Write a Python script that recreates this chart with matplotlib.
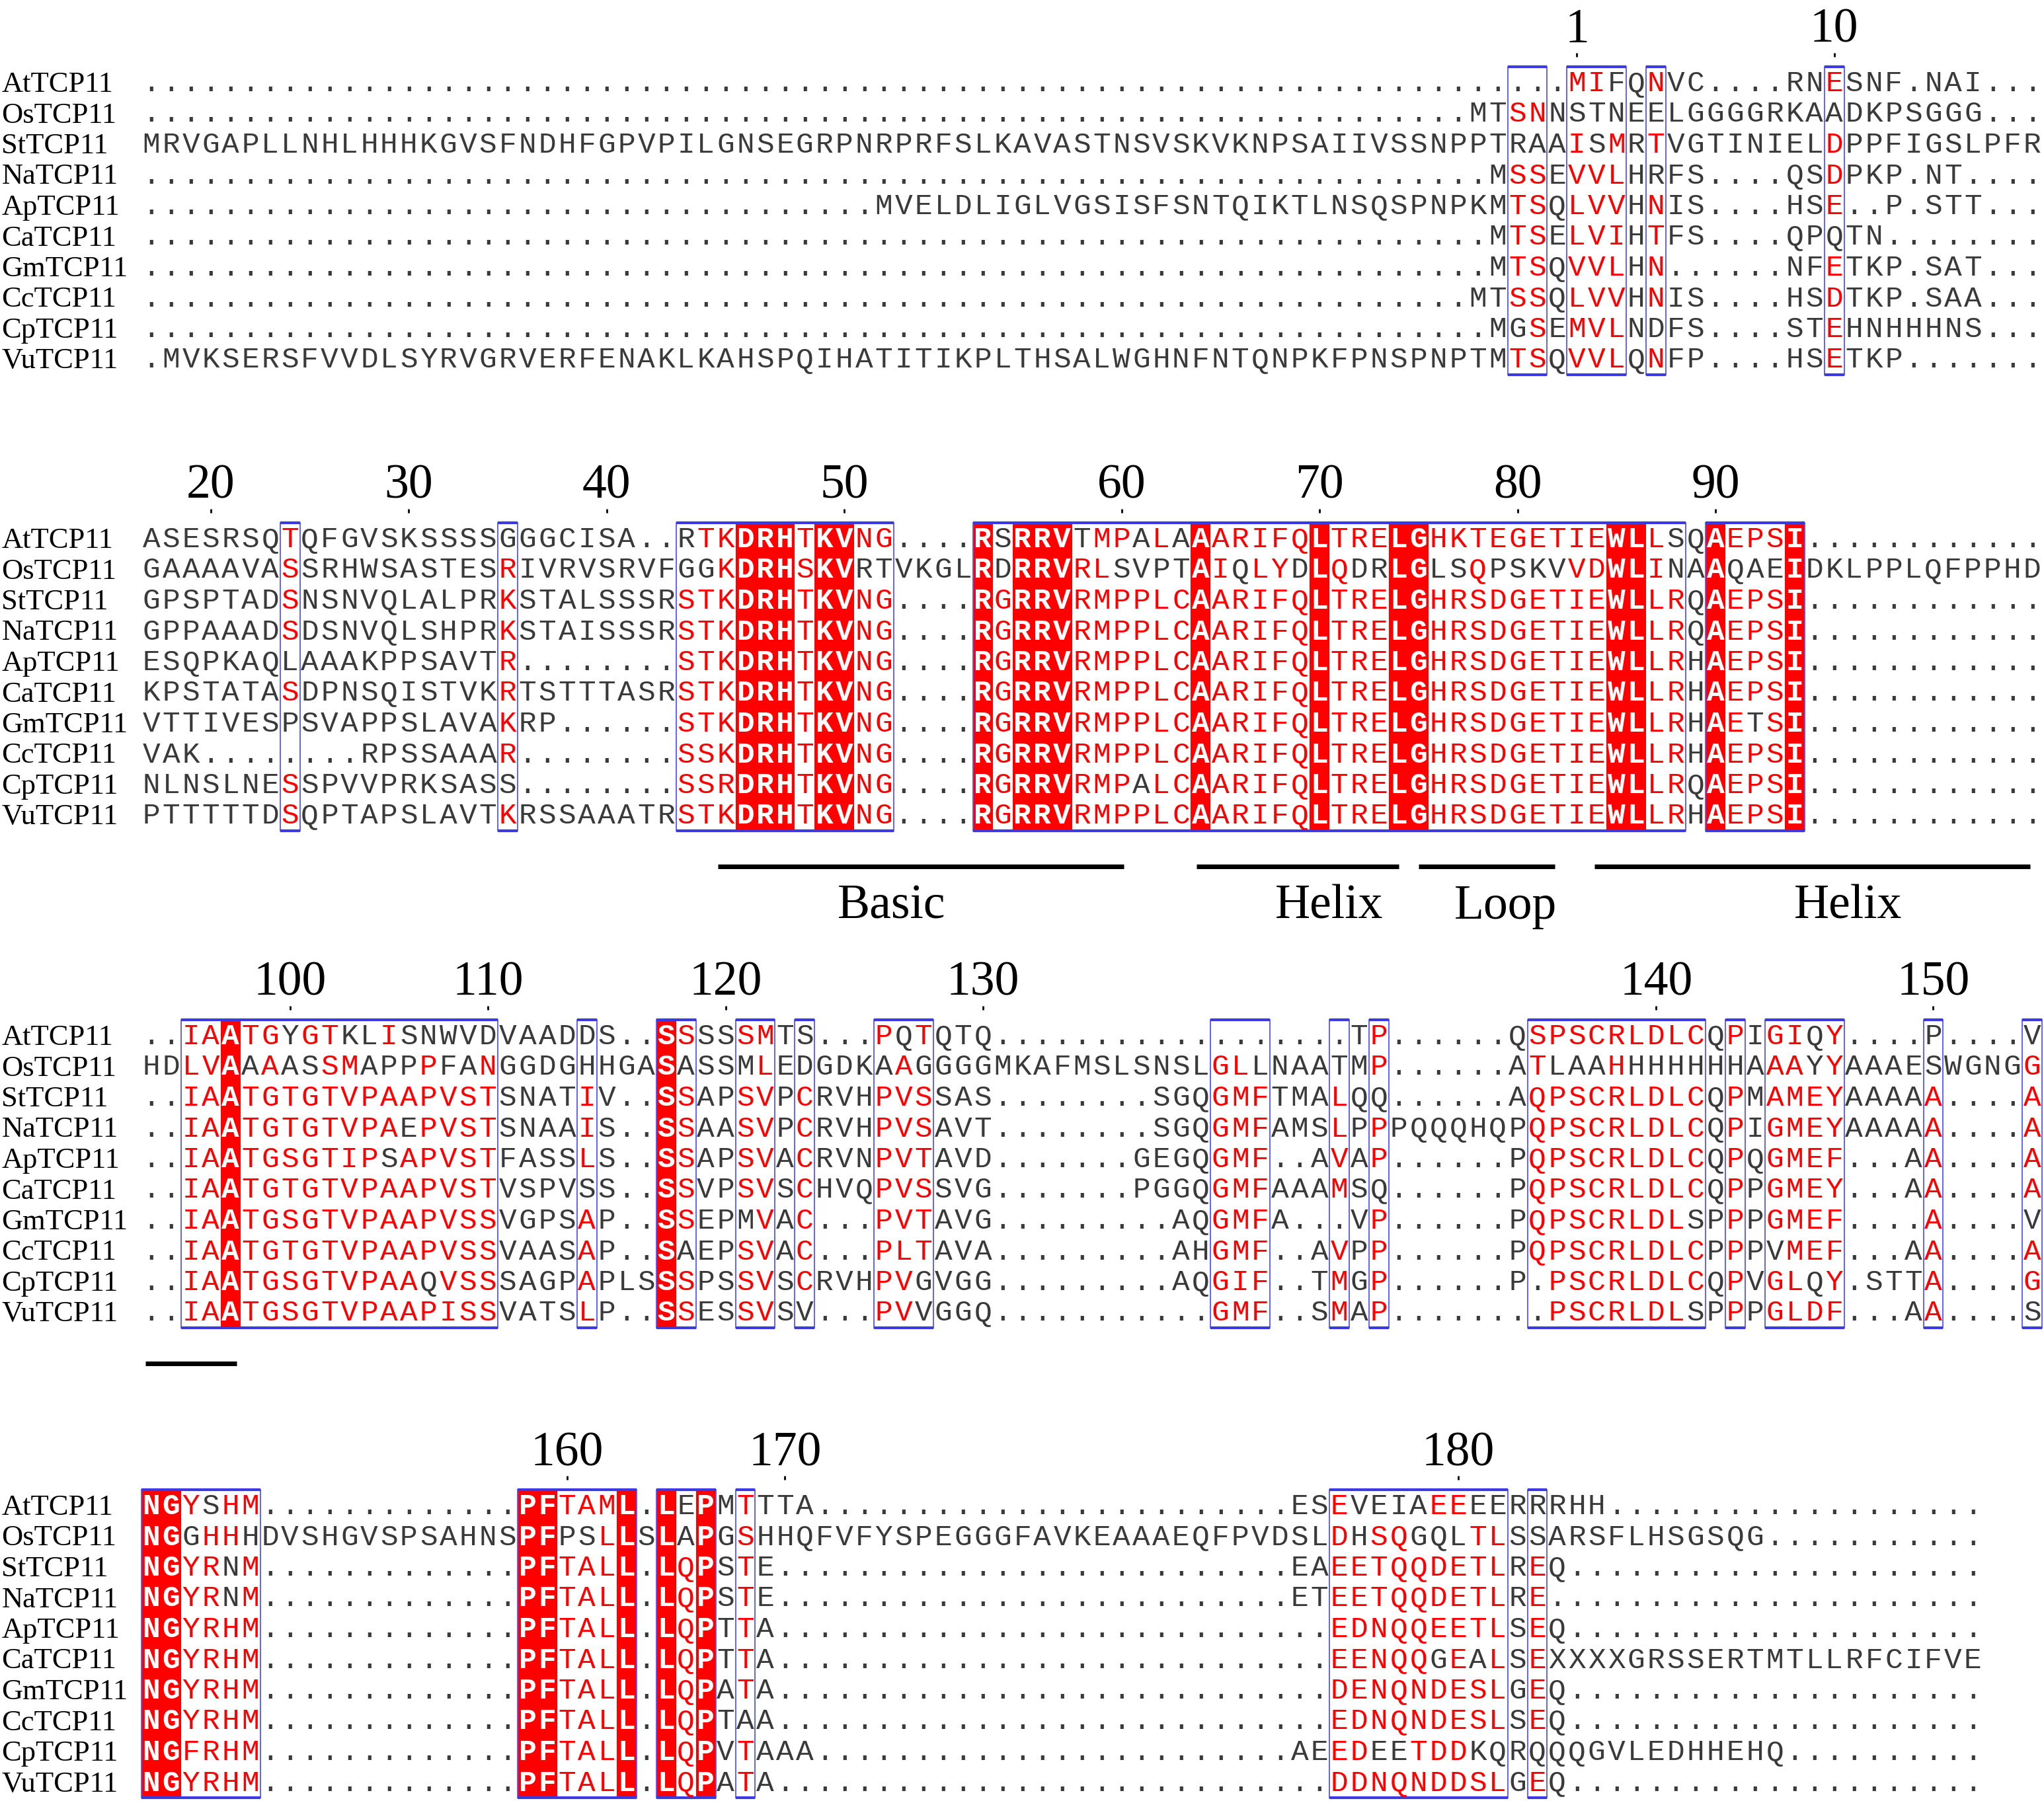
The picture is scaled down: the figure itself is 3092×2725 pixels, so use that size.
import matplotlib
matplotlib.use('Agg')
import matplotlib.pyplot as plt
from matplotlib.patches import Rectangle

names = ['AtTCP11', 'OsTCP11', 'StTCP11', 'NaTCP11', 'ApTCP11',
         'CaTCP11', 'GmTCP11', 'CcTCP11', 'CpTCP11', 'VuTCP11']

# alignment, block by block ('.' = gap)
block1 = [
    '.' * 72 + 'MIFQNVC....RNESNF.NAI...',
    '.' * 67 + 'MTSNNSTNEELGGGGRKAADKPSGGG...',
    'MRVGAPLLNHLHHHKGVSFNDHFGPVPILGNSEGRPNRPRFSLKAVASTNSVSKVKNPSAIIVSSNPPTRAAISMRTVGTINIELDPPFIGSLPFR',
    '.' * 68 + 'MSSEVVLHRFS....QSDPKP.NT....',
    '.' * 37 + 'MVELDLIGLVGSISFSNTQIKTLNSQSPNPKMTSQLVVHNIS....HSE..P.STT...',
    '.' * 68 + 'MTSELVIHTFS....QPQTN' + '.' * 8,
    '.' * 68 + 'MTSQVVLHN......NFETKP.SAT...',
    '.' * 67 + 'MTSSQLVVHNIS....HSDTKP.SAA...',
    '.' * 68 + 'MGSEMVLNDFS....STEHNHHHNS...',
    '.MVKSERSFVVDLSYRVGRVERFENAKLKAHSPQIHATITIKPLTHSALWGHNFNTQNPKFPNSPNPTMTSQVVLQNFP....HSETKP.......',
]
block2 = [
    'ASESRSQTQFGVSKSSSSGGGCISA..RTKDRHTKVNG....RSRRVTMPALAAARIFQLTRELGHKTEGETIEWLLSQAEPSI' + '.' * 12,
    'GAAAAVASSRHWSASTESRIVRVSRVFGGKDRHSKVRTVKGLRDRRVRLSVPTAIQLYDLQDRLGLSQPSKVVDWLINAAQAEIDKLPPLQFPPHD',
    'GPSPTADSNSNVQLALPRKSTALSSSRSTKDRHTKVNG....RGRRVRMPPLCAARIFQLTRELGHRSDGETIEWLLRQAEPSI' + '.' * 12,
    'GPPAAADSDSNVQLSHPRKSTAISSSRSTKDRHTKVNG....RGRRVRMPPLCAARIFQLTRELGHRSDGETIEWLLRQAEPSI' + '.' * 12,
    'ESQPKAQLAAAKPPSAVTR........STKDRHTKVNG....RGRRVRMPPLCAARIFQLTRELGHRSDGETIEWLLRHAEPSI' + '.' * 12,
    'KPSTATASDPNSQISTVKRTSTTTASRSTKDRHTKVNG....RGRRVRMPPLCAARIFQLTRELGHRSDGETIEWLLRHAEPSI' + '.' * 12,
    'VTTIVESPSVAPPSLAVAKRP......STKDRHTKVNG....RGRRVRMPPLCAARIFQLTRELGHRSDGETIEWLLRHAETSI' + '.' * 12,
    'VAK' + '.' * 8 + 'RPSSAAAR' + '.' * 8 + 'SSKDRHTKVNG....RGRRVRMPPLCAARIFQLTRELGHRSDGETIEWLLRHAEPSI' + '.' * 12,
    'NLNSLNESSPVVPRKSASS........SSRDRHTKVNG....RGRRVRMPALCAARIFQLTRELGHRSDGETIEWLLRQAEPSI' + '.' * 12,
    'PTTTTTDSQPTAPSLAVTKRSSAAATRSTKDRHTKVNG....RGRRVRMPPLCAARIFQLTRELGHRSDGETIEWLLRHAEPSI' + '.' * 12,
]
block3 = [
    '..IAATGYGTKLISNWVDVAADDS..SSSSSMTS...PQTQTQ' + '.' * 18 + 'TP......QSPSCRLDLCQPIGIQY....P....V',
    'HDLVAAAASSMAPPPFANGGDGHHGASASSMLEDGDKAAGGGGMKAFMSLSNSLGLLNAATMP......ATLAAHHHHHHHAAAYYAAAESWGNGG',
    '..IAATGTGTVPAAPVSTSNATIV..SSAPSVPCRVHPVSSAS' + '.' * 8 + 'SGQGMFTMALQQ......AQPSCRLDLCQPMAMEYAAAAA....A',
    '..IAATGTGTVPAEPVSTSNAAIS..SSAASVPCRVHPVSAVT' + '.' * 8 + 'SGQGMFAMSLPPPQQQHQPQPSCRLDLCQPIGMEYAAAAA....A',
    '..IAATGSGTIPSAPVSTFASSLS..SSAPSVACRVNPVTAVD' + '.' * 7 + 'GEGQGMF..AVAP......PQPSCRLDLCQPQGMEF...AA....A',
    '..IAATGTGTVPAAPVSTVSPVSS..SSVPSVSCHVQPVSSVG' + '.' * 7 + 'PGGQGMFAAAMSQ......PQPSCRLDLCQPPGMEY...AA....A',
    '..IAATGSGTVPAAPVSSVGPSAP..SSEPMVAC...PVTAVG' + '.' * 9 + 'AQGMFA...VP......PQPSCRLDLSPPPGMEF....A....V',
    '..IAATGTGTVPAAPVSSVAASAP..SAEPSVAC...PLTAVA' + '.' * 9 + 'AHGMF..AVPP......PQPSCRLDLCPPPVMEF...AA....A',
    '..IAATGSGTVPAAQVSSSAGPAPLSSSPSSVSCRVHPVGVGG' + '.' * 9 + 'AQGIF..TMGP......P.PSCRLDLCQPVGLQY.STTA....G',
    '..IAATGSGTVPAAPISSVATSLP..SSESSVSV...PVVGGQ' + '.' * 11 + 'GMF..SMAP........PSCRLDLSPPPGLDF...AA....S',
]
block4 = [
    'NGYSHM' + '.' * 13 + 'PFTAML.LEPMTTTA' + '.' * 24 + 'ESEVEIAEEEERRRHH' + '.' * 19,
    'NGGHHHDVSHGVSPSAHNSPFPSLLSLAPGSHHQFVFYSPEGGGFAVKEAAAEQFPVDSLDHSQGQLTLSSARSFLHSGSQG' + '.' * 11,
    'NGYRNM' + '.' * 13 + 'PFTALL.LQPSTE' + '.' * 26 + 'EAEETQQDETLREQ' + '.' * 21,
    'NGYRNM' + '.' * 13 + 'PFTALL.LQPSTE' + '.' * 26 + 'ETEETQQDETLRE' + '.' * 22,
    'NGYRHM' + '.' * 13 + 'PFTALL.LQPTTA' + '.' * 28 + 'EDNQQEETLSEQ' + '.' * 21,
    'NGYRHM' + '.' * 13 + 'PFTALL.LQPTTA' + '.' * 28 + 'EENQQGEALSEXXXXGRSSERTMTLLRFCIFVE',
    'NGYRHM' + '.' * 13 + 'PFTALL.LQPATA' + '.' * 28 + 'DENQNDESLGEQ' + '.' * 21,
    'NGYRHM' + '.' * 13 + 'PFTALL.LQPTAA' + '.' * 28 + 'EDNQNDESLSEQ' + '.' * 21,
    'NGFRHM' + '.' * 13 + 'PFTALL.LQPVTAAA' + '.' * 24 + 'AEEDEETDDKQRQQQGVLEDHHEHQ' + '.' * 10,
    'NGYRHM' + '.' * 13 + 'PFTALL.LQPATA' + '.' * 28 + 'DDNQNDDSLGEQ' + '.' * 21,
]

# boxed (similar) column ranges per block, 1-based inclusive
boxes1 = [(70, 71), (73, 75), (77, 77), (86, 86)]
boxes2 = [(8, 8), (19, 19), (28, 38), (43, 78), (80, 84)]
boxes3 = [(3, 18), (23, 23), (27, 28), (31, 32), (34, 34), (38, 40), (55, 57),
          (61, 61), (63, 63), (71, 79), (81, 81), (83, 86), (91, 91), (96, 96)]
boxes4 = [(1, 6), (20, 25), (27, 29), (31, 31), (61, 69), (71, 71)]

# secondary structure annotation under block 2 (column units) and its tail in block 3
domain_names = ['Basic', 'Helix', 'Loop', 'Helix']
domain_start = [29.1, 53.3, 64.5, 73.4]
domain_end = [49.6, 63.5, 71.4, 95.4]
domain_label = [37.9, 60.0, 68.9, 86.2]
tail_start, tail_end = 0.2, 4.8

blocks = [block1, block2, block3, block4]
block_boxes = [boxes1, boxes2, boxes3, boxes4]
block_y = [125, 815, 1567, 2278]   # centre of first row, px
pitch = 46.5

sim = {'I': 'ILVMA', 'L': 'ILVMA', 'V': 'ILVMA', 'M': 'ILVMA', 'A': 'A',
       'G': 'GA', 'F': 'FYW', 'Y': 'FYW', 'W': 'FYW', 'K': 'KRH', 'R': 'KRH',
       'H': 'KRH', 'D': 'DE', 'E': 'DE', 'S': 'STNQ', 'T': 'STNQ',
       'N': 'STNQ', 'Q': 'STNQ'}

RED = '#ff0000'
INK = '#3a3a3a'
BLUE = '#5555ff'

W, H = 3092, 2725
cw = 29.95
x0 = 214

fig = plt.figure(figsize=(W / 100, H / 100), dpi=100)
ax = fig.add_axes([0, 0, 1, 1])
ax.set_xlim(-x0 / cw, (W - x0) / cw)
ax.set_ylim(H, 0)
ax.axis('off')

seqfont = dict(family='Liberation Mono', fontsize=32)
serif = 'Liberation Serif'


def classify(block, boxes):
    ncol = len(block[0])
    inbox = set(c for a, b in boxes for c in range(a, b + 1))
    filled, red = set(), set()
    for c in range(1, ncol + 1):
        col = [row[c - 1] for row in block]
        res = [ch for ch in col if ch != '.']
        if len(res) == len(col) and len(set(res)) == 1:
            filled.add(c)
            continue
        if c in inbox and res:
            best = max(set(res), key=lambda t: (sum(r in sim.get(t, t) for r in res), res.count(t)))
            for i, ch in enumerate(col):
                if ch != '.' and ch in sim.get(best, best):
                    red.add((i, c))
    return filled, red


resnum = 0
for b, block in enumerate(blocks):
    y0 = block_y[b]
    top = y0 - 24
    bot = y0 + (len(block) - 1) * pitch + 23
    filled, red = classify(block, block_boxes[b])

    # red background for identical columns
    for c in sorted(filled):
        ax.add_patch(Rectangle((c - 1, top), 1, bot - top, fc=RED, ec='none',
                               lw=0, zorder=1))

    # boxes
    for a, e in block_boxes[b]:
        ax.add_patch(Rectangle((a - 1, top), e - a + 1, bot - top, fill=False,
                               ec=BLUE, lw=1.3, zorder=2))
        ax.plot([a - 1, e], [top, top], color='#3a3ae0', lw=3, zorder=2,
                solid_capstyle='butt')
        ax.plot([a - 1, e], [bot, bot], color='#3a3ae0', lw=3, zorder=2,
                solid_capstyle='butt')

    # names and residues
    for i, row in enumerate(block):
        yc = y0 + i * pitch
        ax.text(-x0 / cw + 0.08, yc + 14, names[i], family=serif, fontsize=32,
                ha='left', va='baseline', color='black')
        for c, ch in enumerate(row, start=1):
            if c in filled:
                col, wt = 'white', 'bold'
            elif (i, c) in red:
                col, wt = RED, 'normal'
            else:
                col, wt = INK, 'normal'
            ax.text(c - 0.5, yc + 13, ch, ha='center', va='baseline',
                    color=col, fontweight=wt, zorder=4, **seqfont)

    # numbering from the first sequence
    for c, ch in enumerate(block[0], start=1):
        if ch == '.':
            continue
        resnum += 1
        if resnum == 1 or resnum % 10 == 0:
            ax.text(c - 0.5, y0 - 61, str(resnum), family=serif, fontsize=53,
                    ha='center', va='baseline', color='black')
            ax.plot([c - 0.5], [y0 - 42], marker='|', ms=5, mew=2, color='black')

# domain bars
bar_y = block_y[1] + 9 * pitch + 77
for name, s, e, lx in zip(domain_names, domain_start, domain_end, domain_label):
    ax.plot([s, e], [bar_y, bar_y], color='black', lw=5, solid_capstyle='butt')
    ax.text(lx, bar_y + 79, name, family=serif, fontsize=53, ha='center',
            va='baseline', color='black')
tail_y = block_y[2] + 9 * pitch + 77
ax.plot([tail_start, tail_end], [tail_y, tail_y], color='black', lw=5,
        solid_capstyle='butt')

fig.savefig('out.png', dpi=100)
